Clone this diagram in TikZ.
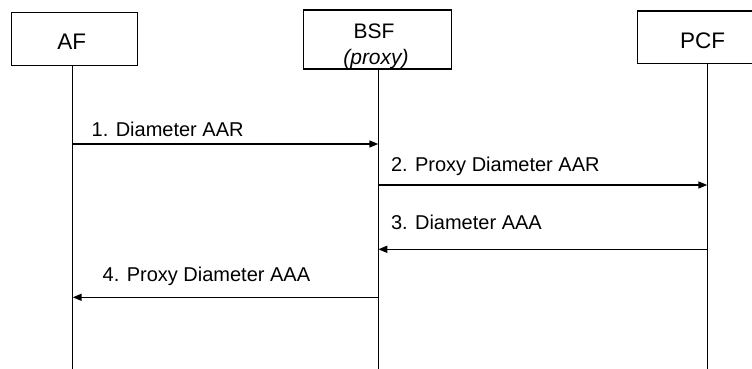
\documentclass[tikz,border=0pt]{standalone}
\usepackage{fontspec}
\setmainfont{Liberation Sans}
\usetikzlibrary{arrows.meta}
\begin{document}
\begin{tikzpicture}[x=1pt,y=-1pt,
  entity/.style={draw=black,line width=1.3pt,fill=none,inner sep=0pt},
  boxtxt/.style={inner sep=0pt,anchor=base,font=\fontsize{22.5}{26}\selectfont},
  lifeline/.style={draw=black,line width=1.1pt},
  msg/.style={draw=black,line width=1.6pt,-{Triangle[length=9pt,width=7pt]}},
  msgtxt/.style={inner sep=0pt,anchor=base west,font=\fontsize{20}{24}\selectfont}]
\useasboundingbox (0,0) rectangle (752,369);
\clip (0,0) rectangle (752,369);
% boxes
\node[entity,minimum width=126pt,minimum height=53.4pt] (af) at (74.3,39) {};
\node[entity,minimum width=148.4pt,minimum height=59pt] (bsf) at (377.5,39.5) {};
\node[entity,minimum width=140pt,minimum height=52.3pt] (pcf) at (707.3,37.2) {};
% box texts
\node[boxtxt] (aft) at (71.7,50) {AF};
\node[boxtxt,font=\fontsize{21}{25}\selectfont] (bsft) at (374,38.3) {BSF};
\node[boxtxt,font=\fontsize{21}{25}\selectfont\itshape] (bsfp) at (376,64.5) {(proxy)};
\node[boxtxt] (pcft) at (702.7,48.3) {PCF};
% lifeline ends
\coordinate (afb) at (72.7,369);
\coordinate (bsfb) at (378.3,369);
\coordinate (pcfb) at (707.3,369);
\draw[lifeline] (af.south -| afb) -- (afb);
\draw[lifeline] (bsf.south -| bsfb) -- (bsfb);
\draw[lifeline] (pcf.south -| pcfb) -- (pcfb);
% message rows
\coordinate (m1) at (0,144);
\coordinate (m2) at (0,185);
\coordinate (m3) at (0,249.3);
\coordinate (m4) at (0,297.3);
\draw[msg] (afb |- m1) -- (bsfb |- m1);
\draw[msg] (bsfb |- m2) -- (pcfb |- m2);
\draw[msg] (pcfb |- m3) -- (bsfb |- m3);
\draw[msg] (bsfb |- m4) -- (afb |- m4);
% message labels
\node[msgtxt] (l1) at (91.5,136.7) {1. Diameter AAR};
\node[msgtxt] (l2) at (390.8,171.7) {2. Proxy Diameter AAR};
\node[msgtxt] (l3) at (390.8,229) {3. Diameter AAA};
\node[msgtxt] (l4) at (102.5,281.7) {4. Proxy Diameter AAA};
\end{tikzpicture}
\end{document}
